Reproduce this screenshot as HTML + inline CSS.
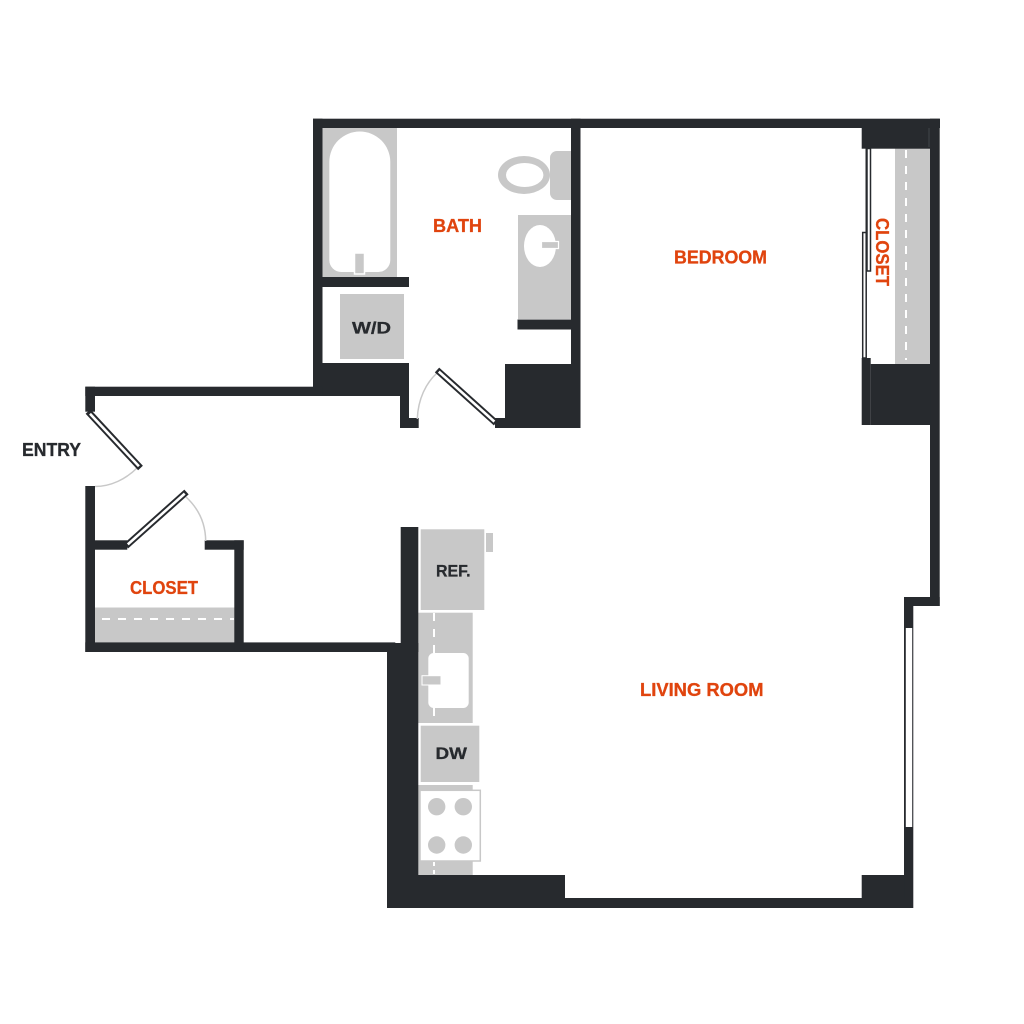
<!DOCTYPE html>
<html>
<head>
<meta charset="utf-8">
<style>
html,body{margin:0;padding:0;background:#fff;width:1024px;height:1024px;overflow:hidden}
svg{display:block}
text{font-family:"Liberation Sans",sans-serif;font-weight:bold;font-size:18px;stroke-width:0.3px}
.o{fill:#e0440e;stroke:#e0440e}
.d{fill:#272a2e;stroke:#272a2e}
</style>
</head>
<body>
<svg width="1024" height="1024" viewBox="0 0 1024 1024" xmlns="http://www.w3.org/2000/svg">
<rect width="1024" height="1024" fill="#fff"/>

<!-- gray fixtures -->
<g fill="#c8c8c8">
  <rect x="322" y="128" width="75" height="149"/>
  <rect x="340" y="294" width="64" height="65"/>
  <rect x="518" y="215" width="53" height="104"/>
  <path d="M571 151H557a7 7 0 0 0-7 7V193a7 7 0 0 0 7 7H571Z"/>
  <ellipse cx="524" cy="175" rx="26" ry="19"/>
  <rect x="895" y="148" width="35" height="216"/>
  <rect x="95" y="607.5" width="139.500" height="35"/>
  <rect x="420.700" y="529.300" width="63.600" height="80.700"/>
  <rect x="486" y="533" width="7" height="19"/>
  <rect x="418" y="612.700" width="54.700" height="110.300"/>
  <rect x="420.700" y="725.700" width="58.600" height="56.300"/>
  <rect x="418" y="785" width="54.700" height="90"/>
</g>

<!-- white cut-outs -->
<path d="M329.300 162a30.500 30.500 0 0 1 61 0V260a12 12 0 0 1-12 12H341.300a12 12 0 0 1-12-12Z" fill="#fff"/>
<rect x="354.500" y="253" width="10" height="21" fill="#c8c8c8" stroke="#fff" stroke-width="1.500"/>
<ellipse cx="524.700" cy="175" rx="18.700" ry="12" fill="#fff"/>
<ellipse cx="540" cy="246" rx="16" ry="21" fill="#fff"/>
<rect x="541.500" y="241.500" width="17" height="7" fill="#c8c8c8" stroke="#fff" stroke-width="1.200"/>

<!-- dashes -->
<line x1="906" y1="150" x2="906" y2="360" stroke="#fff" stroke-width="2" stroke-dasharray="8 8"/>
<line x1="102" y1="619" x2="234" y2="619" stroke="#fff" stroke-width="2" stroke-dasharray="8 8"/>
<line x1="434" y1="612" x2="434" y2="660" stroke="#fff" stroke-width="2" stroke-dasharray="8 8" stroke-dashoffset="-1"/>
<line x1="434" y1="700" x2="434" y2="716" stroke="#fff" stroke-width="2"/>
<line x1="434" y1="862" x2="434" y2="875" stroke="#fff" stroke-width="2" stroke-dasharray="4 4"/>

<!-- kitchen sink -->
<rect x="428.300" y="653" width="40.400" height="55" rx="5.500" fill="#fff"/>
<rect x="422" y="675.700" width="19" height="9.300" fill="#c8c8c8" stroke="#fff" stroke-width="1"/>

<!-- range -->
<rect x="420" y="790.300" width="60.300" height="70.700" fill="#fff" stroke="#c8c8c8" stroke-width="1.500"/>
<g fill="#c8c8c8">
  <circle cx="436.700" cy="806.700" r="8.700"/>
  <circle cx="463.300" cy="806.700" r="8.700"/>
  <circle cx="436.700" cy="845" r="8.700"/>
  <circle cx="463.300" cy="845" r="8.700"/>
</g>

<!-- walls -->
<g fill="#272a2e">
  <rect x="313" y="118.700" width="627" height="9.300"/>
  <rect x="313" y="118.700" width="9.500" height="277.300"/>
  <rect x="571" y="118.700" width="9.500" height="309.300"/>
  <rect x="322" y="277" width="87" height="10"/>
  <rect x="517.500" y="319.500" width="53.500" height="10"/>
  <rect x="313" y="363" width="96" height="33"/>
  <rect x="400" y="363" width="9" height="65"/>
  <rect x="400" y="418" width="18.700" height="10"/>
  <rect x="505" y="364" width="75.500" height="64"/>
  <rect x="495" y="418" width="20" height="10"/>
  <rect x="85.300" y="386.700" width="237" height="9.300"/>
  <rect x="85.300" y="386.700" width="9.700" height="25"/>
  <rect x="85.300" y="486" width="9.700" height="166"/>
  <rect x="85.300" y="642.400" width="310" height="9.600"/>
  <rect x="95" y="540.300" width="32.300" height="9.400"/>
  <rect x="204.700" y="540.300" width="39" height="9.400"/>
  <rect x="234.300" y="540.300" width="9.400" height="111"/>
  <rect x="861.700" y="128" width="68.300" height="20.700"/>
  <rect x="930" y="118.700" width="9.700" height="487.300"/>
  <rect x="870.700" y="364" width="60" height="61"/>
  <rect x="861.700" y="358" width="9" height="67"/>
  <rect x="904" y="597" width="35.700" height="9"/>
  <rect x="904" y="597" width="9.300" height="311"/>
  <rect x="861.700" y="875" width="42.500" height="33"/>
  <rect x="565" y="898" width="348" height="10"/>
  <rect x="400.700" y="527" width="17.600" height="125"/>
  <rect x="387" y="643" width="31.300" height="265"/>
  <rect x="387" y="875" width="178" height="33"/>
</g>
<line x1="929" y1="128" x2="929" y2="147" stroke="#4a4d52" stroke-width="0.800"/>

<!-- window -->
<rect x="905.800" y="628" width="6.400" height="199" fill="#fff"/>

<!-- sliding closet doors -->
<rect x="867" y="148.500" width="3.500" height="122.500" fill="#fff" stroke="#272a2e" stroke-width="1.500"/>
<rect x="862.700" y="232.500" width="3.500" height="125.500" fill="#fff" stroke="#272a2e" stroke-width="1.500"/>
<line x1="866" y1="148" x2="866" y2="233" stroke="#272a2e" stroke-width="1"/>

<!-- door swings -->
<g fill="none" stroke="#c8c8c8" stroke-width="1.500">
  <path d="M417.300 419C418 399 426 383 437 373"/>
  <path d="M95 486.500C111 486.500 126 479 137 468"/>
  <path d="M205.700 541C205.500 523 198 508 186 497"/>
</g>

<!-- doors -->
<g fill="none" stroke-linecap="butt">
  <line x1="437" y1="370" x2="496" y2="423" stroke="#272a2e" stroke-width="6.500"/>
  <line x1="438.800" y1="371.600" x2="494.400" y2="421.600" stroke="#fff" stroke-width="2.600"/>
  <line x1="88" y1="411.500" x2="140.500" y2="468" stroke="#272a2e" stroke-width="6.500"/>
  <line x1="90" y1="413.700" x2="138.900" y2="466.300" stroke="#fff" stroke-width="2.600"/>
  <line x1="126" y1="546" x2="186.500" y2="492" stroke="#272a2e" stroke-width="6.500"/>
  <line x1="127.800" y1="544.400" x2="184.700" y2="493.600" stroke="#fff" stroke-width="2.600"/>
</g>

<!-- labels -->
<text class="o" x="433" y="232" textLength="49" lengthAdjust="spacingAndGlyphs">BATH</text>
<text class="o" x="674" y="263.500" textLength="93" lengthAdjust="spacingAndGlyphs">BEDROOM</text>
<text class="o" x="640" y="696" textLength="123.500" lengthAdjust="spacingAndGlyphs">LIVING ROOM</text>
<text class="o" x="130" y="594" textLength="68" lengthAdjust="spacingAndGlyphs">CLOSET</text>
<text class="o" transform="translate(876 218) rotate(90)" textLength="68" lengthAdjust="spacingAndGlyphs">CLOSET</text>
<text class="d" x="22" y="456" textLength="59" lengthAdjust="spacingAndGlyphs">ENTRY</text>
<text class="d" x="352" y="333.500" textLength="39" lengthAdjust="spacingAndGlyphs" style="font-size:17px">W/D</text>
<text class="d" x="436" y="576.500" textLength="34.500" lengthAdjust="spacingAndGlyphs" style="font-size:17px">REF.</text>
<text class="d" x="435.500" y="759" textLength="31.500" lengthAdjust="spacingAndGlyphs" style="font-size:17px">DW</text>
</svg>
</body>
</html>
